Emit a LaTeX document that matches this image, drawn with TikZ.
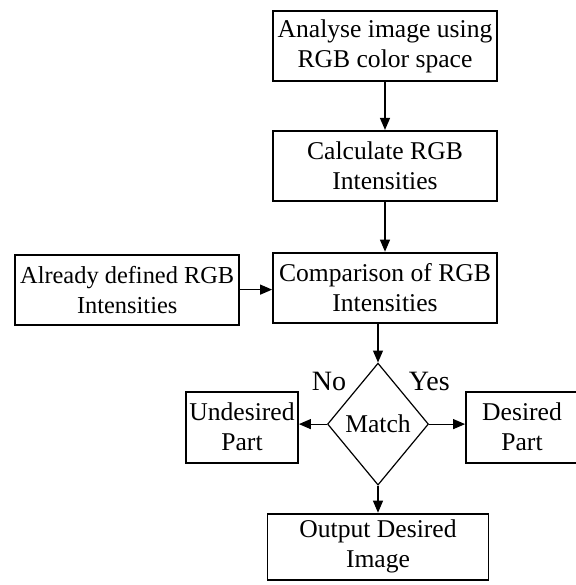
\documentclass[tikz,border=0pt]{standalone}
\usepackage{fontspec}
\setmainfont{Liberation Serif}
\usepackage{tikz}
\usetikzlibrary{shapes.geometric, arrows.meta, positioning}

\begin{document}
\begin{tikzpicture}[
  node distance=24pt and 16pt,
  box/.style={rectangle, draw, line width=0.9pt, minimum width=112pt,
              minimum height=35pt, inner sep=1pt, align=center,
              font=\fontsize{12.8}{15}\selectfont},
  smallbox/.style={box, minimum width=56pt, minimum height=35.5pt},
  decision/.style={diamond, draw, line width=0.6pt, minimum width=50.5pt,
                   minimum height=61pt, inner sep=0pt, align=center,
                   font=\fontsize{12.8}{15}\selectfont},
  lbl/.style={inner sep=1pt, font=\fontsize{14}{16}\selectfont},
  arr/.style={-{Triangle[length=6pt, width=5pt]}, line width=0.6pt}
]
\useasboundingbox (0,0) rectangle (288pt,-292.5pt);

\node[box] (analyse) at (192.5pt,-23pt) {Analyse image using\\RGB color space};
\node[box, below=of analyse]        (calc)      {Calculate RGB\\Intensities};
\node[box, below=25pt of calc]      (compare)   {Comparison of RGB\\Intensities};
\node[box, left=of compare, yshift=-1pt, inner sep=0pt,
      font=\fontsize{12.2}{15}\selectfont] (defined) {Already defined RGB\\Intensities};
\node[decision, below=19.5pt of compare, xshift=-3.5pt] (match) {Match};
\node[smallbox, left=14pt of match, yshift=-1.5pt]  (undesired) {Undesired\\Part};
\node[smallbox, right=18pt of match, yshift=-1.5pt] (desired)   {Desired\\Part};
\node[box, below=13.5pt of match, minimum width=110.5pt, minimum height=33pt] (output) {Output Desired\\Image};

\node[lbl, above left=0pt and 2pt of match.north west]  (no)  {No};
\node[lbl, above right=0pt and 1.5pt of match.north east] (yes) {Yes};

\draw[arr] (analyse) -- (calc);
\draw[arr] (calc)    -- (compare);
\draw[arr] (defined.east) -- (defined.east -| compare.west);
\draw[arr] (compare.south -| match.north) -- (match.north);
\draw[arr] (match.west) -- (match.west -| undesired.east);
\draw[arr] (match.east) -- (match.east -| desired.west);
\draw[arr] (match.south) -- (output.north -| match.south);
\end{tikzpicture}
\end{document}
